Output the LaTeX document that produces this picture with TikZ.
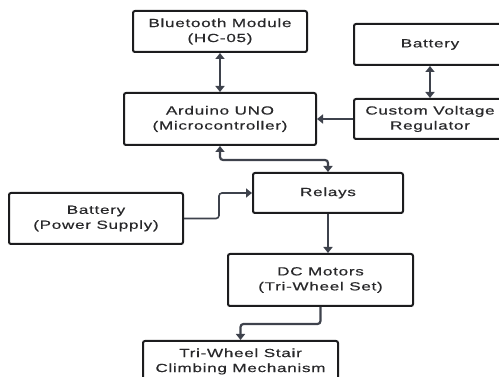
\documentclass[tikz,border=0pt]{standalone}
\usepackage{fontspec}
\setmainfont{Liberation Sans}[FakeStretch=1.45,LetterSpace=6,FakeBold=0.5]
\usetikzlibrary{arrows.meta}

\definecolor{boxline}{RGB}{28,28,30}
\definecolor{arrowc}{RGB}{62,66,76}
\definecolor{txt}{RGB}{40,40,42}

\begin{document}
\begin{tikzpicture}[x=1pt,y=-1pt,
  blk/.style={draw=boxline, line width=2pt, rounded corners=2pt, align=center,
              inner sep=0pt, text=txt, font=\fontsize{11.8}{15}\selectfont},
  link/.style={draw=arrowc, line width=2.2pt, rounded corners=3pt,
               -{Triangle[width=9pt,length=6pt]}},
  dlink/.style={link, {Triangle[width=9pt,length=6pt]}-{Triangle[width=9pt,length=6pt]}}]

\useasboundingbox (0,0) rectangle (499,377);
\clip (0,0) rectangle (499,377);

% Control side
\node[blk, minimum width=174pt, minimum height=41pt] (bt) at (220,31.5) {Bluetooth Module\\(HC-05)};
\node[blk, minimum width=192pt, minimum height=52pt] (ard) at (220,119) {Arduino UNO\\(Microcontroller)};

% Supply for the controller
\node[blk, minimum width=152pt, minimum height=41pt] (batt) at (430,44.5) {Battery};
\node[blk, minimum width=152pt, minimum height=40pt] (cvr) at (430,119) {Custom Voltage\\Regulator};

% Drive side
\node[blk, minimum width=150pt, minimum height=40pt] (relay) at (328,193) {Relays};
\node[blk, minimum width=174pt, minimum height=51pt] (batps) at (96,218.5) {Battery\\(Power Supply)};
\node[blk, minimum width=185pt, minimum height=52pt] (motor) at (320.5,280) {DC Motors\\(Tri-Wheel Set)};
\node[blk, minimum width=195pt, minimum height=41pt] (mech) at (240.5,361.5) {Tri-Wheel Stair\\Climbing Mechanism};

% Connections
\draw[dlink] (bt) -- (ard);
\draw[dlink] (batt) -- (cvr);
\draw[link] (cvr) -- (ard);
\draw[dlink] (ard.south) -- ++(0,14) -| (relay.north);
\draw[link, line width=1.6pt] (batps.east) -- ++(35,0) |- (relay.west);
\draw[link] (relay.south) -- (relay.south |- motor.north);
\draw[link] (motor.south) -- ++(0,17) -| (mech.north);

\end{tikzpicture}
\end{document}
